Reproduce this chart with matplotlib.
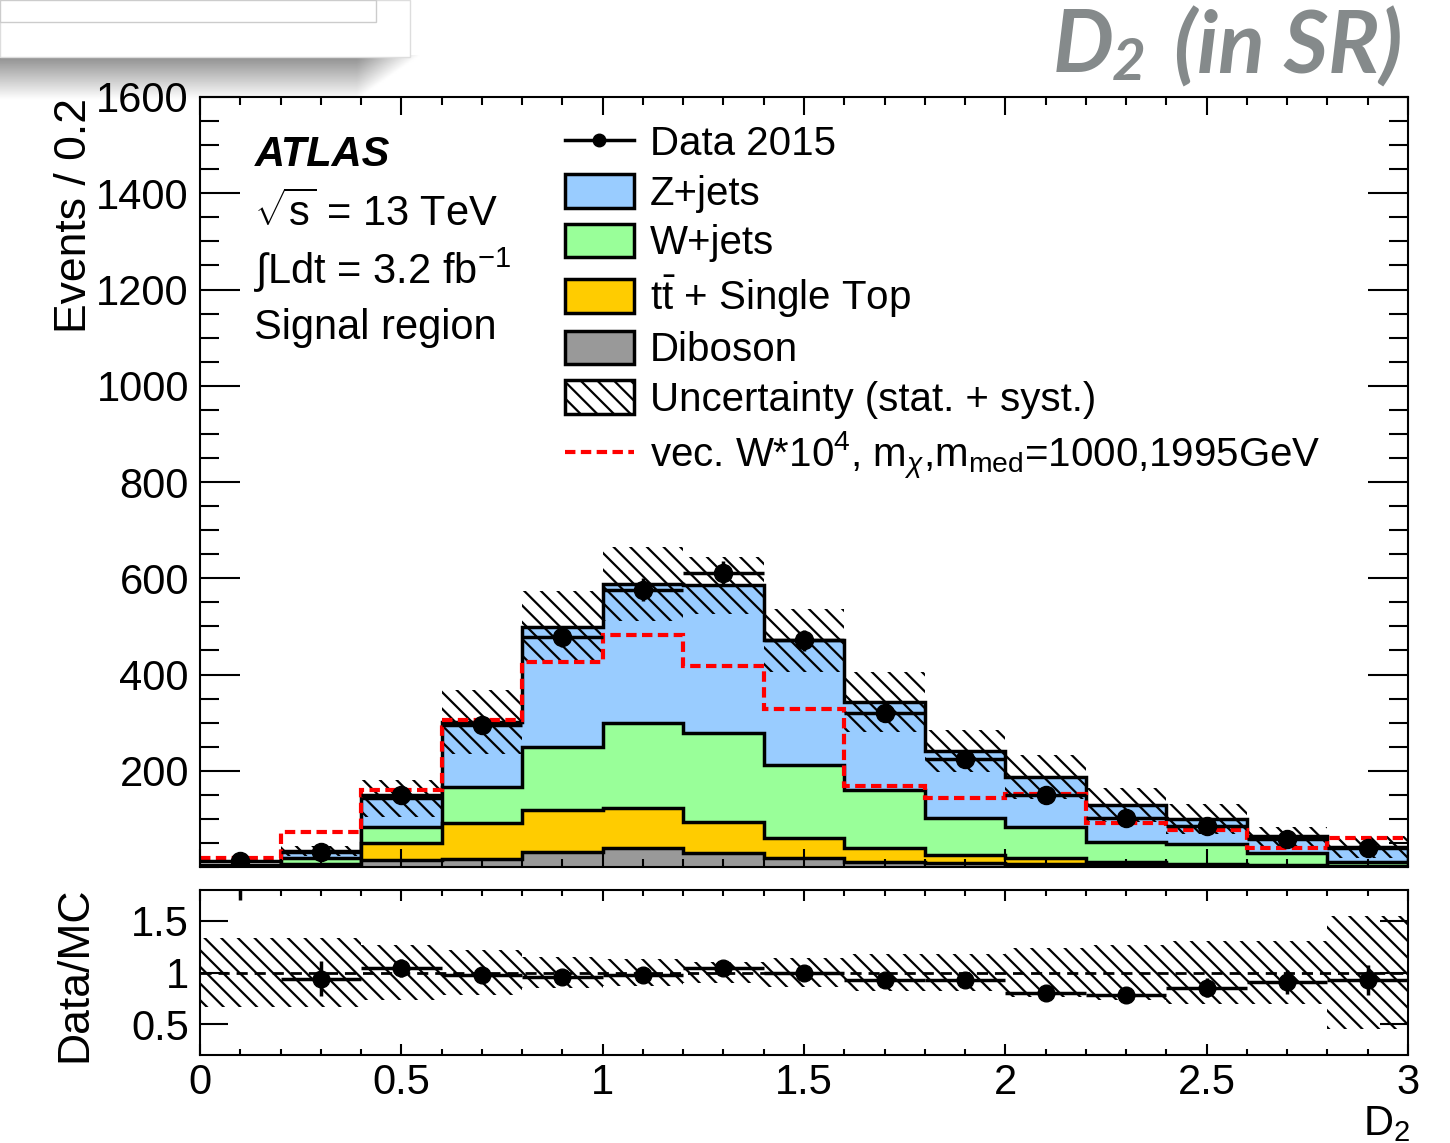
import numpy as np
import matplotlib.pyplot as plt
from matplotlib.patches import Patch, Rectangle
from matplotlib.lines import Line2D
from matplotlib.ticker import MultipleLocator

plt.rcParams['font.family'] = ['Liberation Sans', 'DejaVu Sans']
plt.rcParams['mathtext.fontset'] = 'custom'
plt.rcParams['mathtext.rm'] = 'Liberation Sans'
plt.rcParams['mathtext.it'] = 'Liberation Sans:italic'
plt.rcParams['mathtext.bf'] = 'Liberation Sans:bold'
plt.rcParams['hatch.linewidth'] = 1.6

# D2 binning, 0.2 wide bins
edges = np.round(np.arange(0, 3.01, 0.2), 1)
centers = 0.5 * (edges[:-1] + edges[1:])

data = np.array([12, 31, 149, 295, 478, 576, 611, 471, 319, 224, 150, 101, 85, 58, 39])
diboson = np.array([1, 2, 14, 16, 31, 39, 29, 18, 10, 8, 6, 4, 3, 2, 1])
ttbar = np.array([1, 4, 36, 75, 87, 84, 65, 42, 29, 17, 12, 6, 3, 2, 2])
wjets = np.array([1, 12, 34, 75, 131, 176, 184, 152, 121, 77, 65, 42, 42, 25, 7])
zjets = np.array([2, 15, 59, 135, 249, 289, 307, 259, 183, 139, 104, 77, 52, 35, 32])
signal = np.array([18, 73, 160, 305, 426, 482, 418, 328, 168, 143, 152, 91, 77, 39, 60])
unc_rel = np.array([0.33, 0.33, 0.27, 0.22, 0.15, 0.13, 0.10, 0.14, 0.18, 0.18, 0.24, 0.27, 0.31, 0.31, 0.55])

c_z = '#99ccff'
c_w = '#99ff99'
c_tt = '#ffcc00'
c_vv = '#999999'

fig = plt.figure(figsize=(14.5, 11.43), dpi=100)

# slide decoration top left
shadow = fig.add_axes([0, 1 - 100 / 1143, 420 / 1450, 45 / 1143], zorder=0)
grad = np.linspace(0.55, 1.0, 50)[:, None] * np.ones((50, 200))
xfade = np.linspace(0, 1, 200)[None, :]
grad = np.clip(grad + 0.45 * np.clip((xfade - 0.85) / 0.15, 0, 1), 0, 1)
shadow.imshow(grad, cmap='gray', vmin=0, vmax=1, aspect='auto', interpolation='bilinear')
shadow.axis('off')
fig.patches.append(Rectangle((0, 1 - 57 / 1143), 410 / 1450, 57 / 1143, transform=fig.transFigure,
                             facecolor='white', edgecolor='#dddddd', lw=1, zorder=1))
fig.patches.append(Rectangle((0, 1 - 22 / 1143), 376 / 1450, 22 / 1143, transform=fig.transFigure,
                             facecolor='white', edgecolor='#cccccc', lw=1, zorder=1))

ax = fig.add_axes([200 / 1450, 1 - 867 / 1143, 1208 / 1450, 770 / 1143], zorder=2)
ax2 = fig.add_axes([200 / 1450, 1 - 1055 / 1143, 1208 / 1450, 165 / 1143], zorder=2)

# stacked backgrounds, drawn cumulative from the top down
s1 = diboson
s2 = s1 + ttbar
s3 = s2 + wjets
total = s3 + zjets
for top, col in [(total, c_z), (s3, c_w), (s2, c_tt), (s1, c_vv)]:
    ax.stairs(top, edges, baseline=0, fill=True, facecolor=col, edgecolor='black', lw=2.5)

ax.stairs(total * (1 + unc_rel), edges, baseline=total * (1 - unc_rel), fill=True,
          facecolor='none', edgecolor='black', hatch='\\\\', lw=0)
ax.stairs(signal, edges, baseline=None, color='red', lw=3, ls=(0, (2.5, 1.3)))
ax.errorbar(centers, data, yerr=np.sqrt(data), xerr=0.1, fmt='o', color='black',
            ms=13, lw=2.5, capsize=0)

ax.set_xlim(0, 3)
ax.set_ylim(0, 1600)
ax.set_yticks(np.arange(200, 1601, 200))
ax.yaxis.set_minor_locator(MultipleLocator(50))
ax.xaxis.set_major_locator(MultipleLocator(0.5))
ax.xaxis.set_minor_locator(MultipleLocator(0.1))
ax.tick_params(axis='both', which='both', direction='in', top=True, right=True, width=1.5)
ax.tick_params(axis='y', which='major', length=29, labelsize=30, pad=8)
ax.tick_params(axis='y', which='minor', length=14)
ax.tick_params(axis='x', which='major', length=13, labelbottom=False)
ax.tick_params(axis='x', which='minor', length=6)
for sp in ax.spines.values():
    sp.set_linewidth(1.5)

ax.text(0.045, 0.925, 'ATLAS', transform=ax.transAxes, fontsize=30, fontweight='bold',
        style='italic', va='center')
ax.text(0.045, 0.849, r'$\sqrt{\mathrm{s}}$ = 13 TeV', transform=ax.transAxes, fontsize=30, va='center')
ax.text(0.045, 0.775, r'$\int$Ldt = 3.2 fb$^{-1}$', transform=ax.transAxes, fontsize=30, va='center')
ax.text(0.045, 0.700, 'Signal region', transform=ax.transAxes, fontsize=30, va='center')

handles = [
    Line2D([], [], color='black', marker='o', ms=9, lw=2.5),
    Patch(facecolor=c_z, edgecolor='black', lw=2.5),
    Patch(facecolor=c_w, edgecolor='black', lw=2.5),
    Patch(facecolor=c_tt, edgecolor='black', lw=2.5),
    Patch(facecolor=c_vv, edgecolor='black', lw=2.5),
    Patch(facecolor='white', edgecolor='black', hatch='\\\\', lw=2.5),
    Line2D([], [], color='red', lw=3, ls=(0, (2.5, 1.3))),
]
labels = ['Data 2015', 'Z+jets', 'W+jets', r't$\mathrm{\bar{t}}$ + Single Top', 'Diboson',
          'Uncertainty (stat. + syst.)',
          r'vec. W*10$^4$, m$_\chi$,m$_{\mathrm{med}}$=1000,1995GeV']
ax.legend(handles, labels, loc='upper left', bbox_to_anchor=(0.289, 0.985), frameon=False,
          fontsize=29, handlelength=1.7, handleheight=0.9, labelspacing=0.27,
          handletextpad=0.4, borderaxespad=0)

# ratio panel
ratio = data / total
ax2.stairs(1 + unc_rel, edges, baseline=1 - unc_rel, fill=True, facecolor='none',
           edgecolor='black', hatch='\\\\', lw=0)
ax2.axhline(1, color='black', ls=(0, (4, 2.5)), lw=2)
ax2.errorbar(centers, ratio, yerr=np.sqrt(data) / total, xerr=0.1, fmt='o', color='black',
             ms=12, lw=2.5, capsize=0)
ax2.set_xlim(0, 3)
ax2.set_ylim(0.2, 1.8)
ax2.set_yticks([0.5, 1, 1.5])
ax2.set_yticklabels(['0.5', '1', '1.5'])
ax2.set_xticks([0, 0.5, 1, 1.5, 2, 2.5, 3])
ax2.set_xticklabels(['0', '0.5', '1', '1.5', '2', '2.5', '3'])
ax2.xaxis.set_minor_locator(MultipleLocator(0.1))
ax2.tick_params(axis='both', which='both', direction='in', top=True, right=True, width=1.5)
ax2.tick_params(axis='y', which='major', length=20, labelsize=30, pad=8)
ax2.tick_params(axis='x', which='major', length=8, labelsize=30, pad=6)
ax2.tick_params(axis='x', which='minor', length=4)
for sp in ax2.spines.values():
    sp.set_linewidth(1.5)

fig.text(75 / 1450, 1 - 98 / 1143, 'Events / 0.2', rotation=90, ha='center', va='top', fontsize=32)
fig.text(75 / 1450, 1 - 974 / 1143, 'Data/MC', rotation=90, ha='center', va='center', fontsize=32)
fig.text(1410 / 1450, 1 - 1124 / 1143, r'D$_2$', ha='right', va='center', fontsize=30)

# slide title
gray = '#858a8b'
tfont = dict(family=['Lato', 'Open Sans'], fontweight='bold', style='italic', color=gray)
fig.text(1053 / 1450, 1 - 48 / 1143, 'D', ha='left', va='center', fontsize=62, **tfont)
fig.text(1112 / 1450, 1 - 64 / 1143, '2', ha='left', va='center', fontsize=42, **tfont)
fig.text(1402 / 1450, 1 - 48 / 1143, '(in SR)', ha='right', va='center', fontsize=62, **tfont)

fig.savefig('out.png', dpi=100)
